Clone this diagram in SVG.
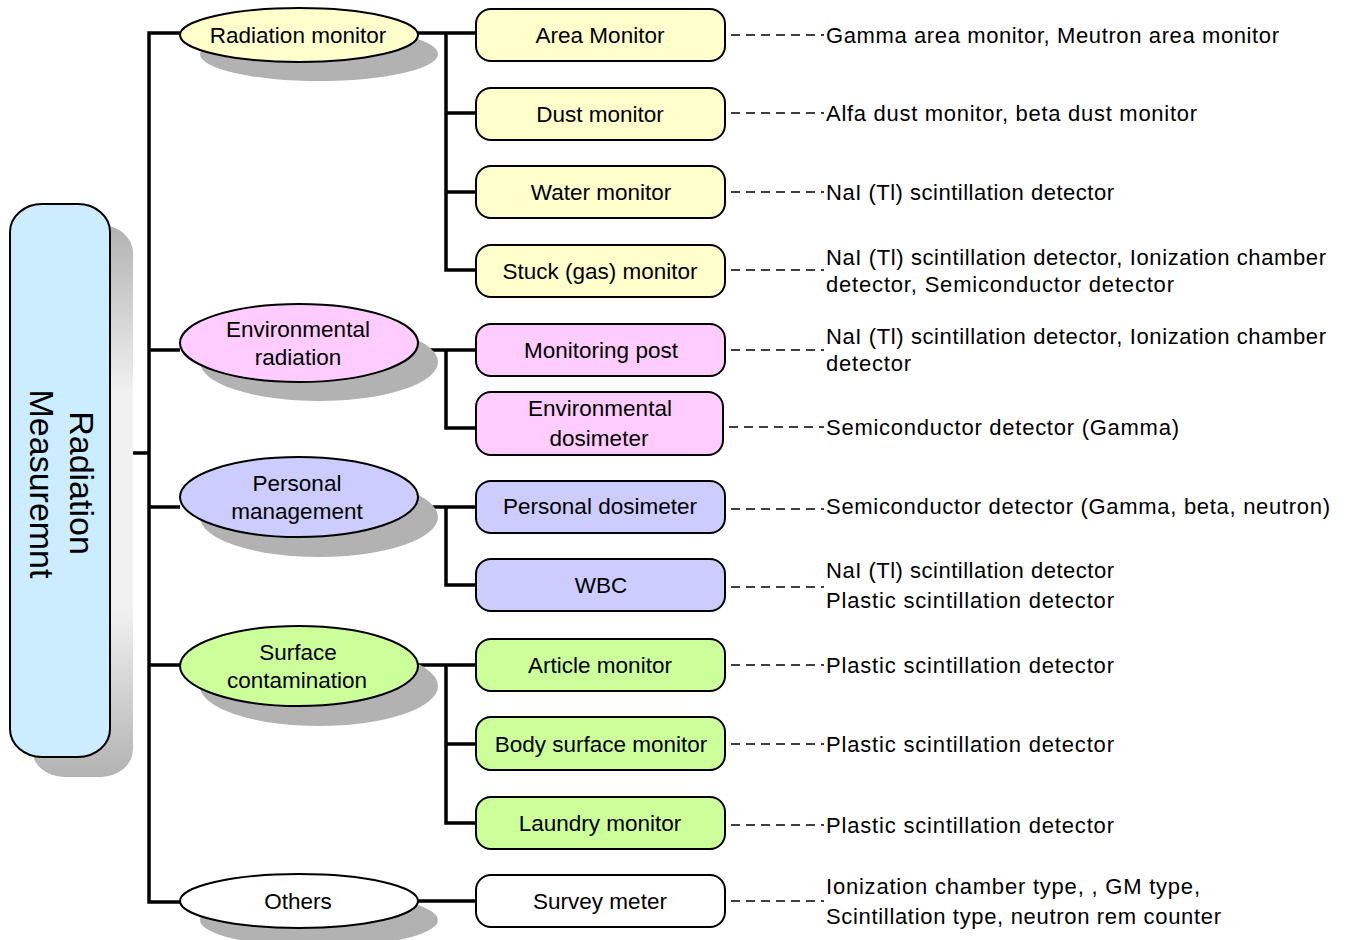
<svg xmlns="http://www.w3.org/2000/svg" width="1347" height="940" viewBox="0 0 1347 940">
<defs>
<linearGradient id="bigShadow" x1="0" y1="0" x2="0" y2="1">
<stop offset="0" stop-color="#B2B2B2"/>
<stop offset="0.3" stop-color="#F0F0F0"/>
<stop offset="0.7" stop-color="#F0F0F0"/>
<stop offset="1" stop-color="#B2B2B2"/>
</linearGradient>
</defs>
<style>
text{font-family:"Liberation Sans",Arial,sans-serif;fill:#000;}
.t{font-size:22.5px;text-anchor:middle;}
.r{font-size:22px;}
.big{font-size:34px;text-anchor:middle;}
.node{stroke:#000;stroke-width:2;}
.sh{fill:#B2B2B2;stroke:none;}
.conn line,.conn polyline{stroke:#000;stroke-width:3.5;fill:none;}
.dash line{stroke:#000;stroke-width:1.5;stroke-dasharray:9 6;}
.y{fill:#FFFFCC;}.p{fill:#FFCCFF;}.l{fill:#CCCCFF;}.g{fill:#CCFF99;}.w{fill:#FFFFFF;}.b{fill:#CCECFF;}
</style>
<rect width="1347" height="940" fill="#FFFFFF"/>

<g id="connectors" class="conn">
<line x1="110" y1="453" x2="149" y2="453"/>
<polyline points="180,33 149,33 149,902 180,902"/>
<line x1="149" y1="350" x2="180" y2="350"/>
<line x1="149" y1="507" x2="180" y2="507"/>
<line x1="149" y1="665" x2="180" y2="665"/>
<line x1="418" y1="33" x2="476" y2="33"/>
<polyline points="446,33 446,270 476,270"/>
<line x1="446" y1="113" x2="476" y2="113"/>
<line x1="446" y1="192" x2="476" y2="192"/>
<line x1="418" y1="350" x2="476" y2="350"/>
<polyline points="446,350 446,428 476,428"/>
<line x1="418" y1="507" x2="476" y2="507"/>
<polyline points="446,507 446,585 476,585"/>
<line x1="418" y1="665" x2="476" y2="665"/>
<polyline points="446,665 446,823 476,823"/>
<line x1="446" y1="744" x2="476" y2="744"/>
<line x1="418" y1="901" x2="476" y2="901"/>
</g>

<g id="dashes" class="dash">
<line x1="731" y1="35" x2="824" y2="35"/>
<line x1="731" y1="113" x2="824" y2="113"/>
<line x1="731" y1="192" x2="824" y2="192"/>
<line x1="731" y1="270" x2="824" y2="270"/>
<line x1="731" y1="350" x2="824" y2="350"/>
<line x1="729" y1="427" x2="824" y2="427"/>
<line x1="731" y1="509" x2="824" y2="509"/>
<line x1="731" y1="587" x2="824" y2="587"/>
<line x1="731" y1="665" x2="824" y2="665"/>
<line x1="731" y1="744" x2="824" y2="744"/>
<line x1="731" y1="825" x2="824" y2="825"/>
<line x1="731" y1="901" x2="824" y2="901"/>
</g>

<g id="root">
<rect x="32" y="225" width="101" height="552" rx="32" ry="28" fill="url(#bigShadow)"/>
<rect class="node b" x="10" y="204" width="100" height="553" rx="32" ry="28"/>
<text class="big" transform="translate(70,483) rotate(90)">Radiation</text>
<text class="big" transform="translate(30,484) rotate(90)">Measuremnt</text>
</g>

<g id="radiation-monitor">
<ellipse class="sh" cx="319" cy="54" rx="119" ry="27"/>
<ellipse class="node y" cx="299" cy="35" rx="119" ry="27"/>
<text class="t" x="298" y="43">Radiation  monitor</text>
</g>
<g id="environmental-radiation">
<ellipse class="sh" cx="319" cy="362" rx="119" ry="39"/>
<ellipse class="node p" cx="299" cy="343" rx="119" ry="39"/>
<text class="t" x="298" y="337">Environmental</text>
<text class="t" x="298" y="365">radiation</text>
</g>
<g id="personal-management">
<ellipse class="sh" cx="319" cy="517" rx="119" ry="40"/>
<ellipse class="node l" cx="299" cy="497" rx="119" ry="40"/>
<text class="t" x="297" y="491">Personal</text>
<text class="t" x="297" y="519">management</text>
</g>
<g id="surface-contamination">
<ellipse class="sh" cx="319" cy="686" rx="119" ry="40"/>
<ellipse class="node g" cx="299" cy="666" rx="119" ry="40"/>
<text class="t" x="298" y="660">Surface</text>
<text class="t" x="297" y="688">contamination</text>
</g>
<g id="others">
<ellipse class="sh" cx="319" cy="920" rx="119" ry="27"/>
<ellipse class="node w" cx="299" cy="901" rx="119" ry="27"/>
<text class="t" x="298" y="909">Others</text>
</g>

<g id="area-monitor"><rect class="node y" x="476" y="9" width="249" height="52" rx="15"/><text class="t" x="600" y="43">Area Monitor</text></g>
<g id="dust-monitor"><rect class="node y" x="476" y="88" width="249" height="52" rx="15"/><text class="t" x="600" y="122">Dust  monitor</text></g>
<g id="water-monitor"><rect class="node y" x="476" y="166" width="249" height="52" rx="15"/><text class="t" x="601" y="200">Water  monitor</text></g>
<g id="stuck-monitor"><rect class="node y" x="476" y="245" width="249" height="52" rx="15"/><text class="t" x="600" y="279">Stuck  (gas)  monitor</text></g>
<g id="monitoring-post"><rect class="node p" x="476" y="324" width="249" height="52" rx="15"/><text class="t" x="601" y="358">Monitoring  post</text></g>
<g id="environmental-dosimeter"><rect class="node p" x="476" y="392" width="247" height="63" rx="15"/><text class="t" x="600" y="416">Environmental</text><text class="t" x="599" y="446">dosimeter</text></g>
<g id="personal-dosimeter"><rect class="node l" x="476" y="481" width="249" height="52" rx="15"/><text class="t" x="600" y="514">Personal  dosimeter</text></g>
<g id="wbc"><rect class="node l" x="476" y="559" width="249" height="52" rx="15"/><text class="t" x="601" y="593">WBC</text></g>
<g id="article-monitor"><rect class="node g" x="476" y="639" width="249" height="52" rx="15"/><text class="t" x="600" y="673">Article  monitor</text></g>
<g id="body-surface-monitor"><rect class="node g" x="476" y="717" width="249" height="53" rx="15"/><text class="t" x="601" y="752">Body surface monitor</text></g>
<g id="laundry-monitor"><rect class="node g" x="476" y="797" width="249" height="52" rx="15"/><text class="t" x="600" y="831">Laundry  monitor</text></g>
<g id="survey-meter"><rect class="node w" x="476" y="875" width="249" height="52" rx="15"/><text class="t" x="600" y="909">Survey meter</text></g>

<g id="descriptions">
<text class="r" x="826" y="43" textLength="453" lengthAdjust="spacing">Gamma area monitor, Meutron area monitor</text>
<text class="r" x="826" y="121" textLength="371" lengthAdjust="spacing">Alfa dust monitor, beta dust monitor</text>
<text class="r" x="826" y="200" textLength="288" lengthAdjust="spacing">NaI (Tl) scintillation detector</text>
<text class="r" x="826" y="265" textLength="500" lengthAdjust="spacing">NaI (Tl) scintillation detector, Ionization chamber</text>
<text class="r" x="826" y="292" textLength="348" lengthAdjust="spacing">detector, Semiconductor detector</text>
<text class="r" x="826" y="344" textLength="500" lengthAdjust="spacing">NaI (Tl) scintillation detector, Ionization chamber</text>
<text class="r" x="826" y="371" textLength="85" lengthAdjust="spacing">detector</text>
<text class="r" x="826" y="435" textLength="353" lengthAdjust="spacing">Semiconductor detector (Gamma)</text>
<text class="r" x="826" y="514" textLength="504" lengthAdjust="spacing">Semiconductor detector (Gamma, beta, neutron)</text>
<text class="r" x="826" y="578" textLength="288" lengthAdjust="spacing">NaI (Tl) scintillation detector</text>
<text class="r" x="826" y="608" textLength="288" lengthAdjust="spacing">Plastic scintillation detector</text>
<text class="r" x="826" y="673" textLength="288" lengthAdjust="spacing">Plastic scintillation detector</text>
<text class="r" x="826" y="752" textLength="288" lengthAdjust="spacing">Plastic scintillation detector</text>
<text class="r" x="826" y="833" textLength="288" lengthAdjust="spacing">Plastic scintillation detector</text>
<text class="r" x="826" y="894" textLength="374" lengthAdjust="spacing">Ionization chamber type, , GM type,</text>
<text class="r" x="826" y="924" textLength="395" lengthAdjust="spacing">Scintillation type, neutron rem counter</text>
</g>
</svg>
